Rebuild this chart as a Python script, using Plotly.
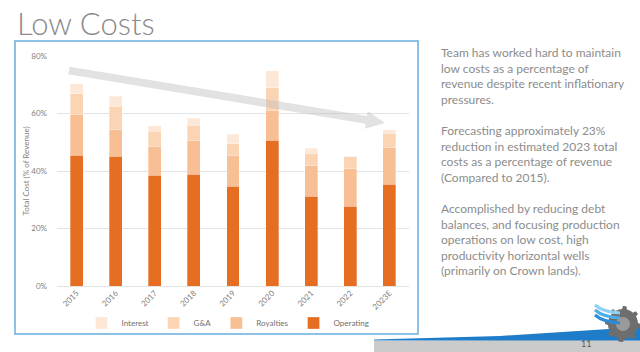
import numpy as np
import plotly.graph_objects as go

years = ["2015", "2016", "2017", "2018", "2019", "2020", "2021", "2022", "2023E"]
operating = [45.5, 45.1, 38.5, 38.9, 34.7, 50.7, 31.2, 27.7, 35.4]
royalties = [14.0, 9.3, 10.1, 11.8, 10.8, 10.2, 10.8, 13.1, 12.7]
g_and_a = [7.4, 8.2, 5.3, 5.2, 4.0, 8.0, 4.2, 4.1, 5.0]
interest = [3.5, 3.4, 1.8, 2.4, 3.2, 5.9, 1.8, 0.3, 1.2]
y_ticks = [0, 20, 40, 60, 80]
y_tick_text = ["0%", "20%", "40%", "60%", "80%"]

W, H = 640, 352
L, R, T, B = 57, 409, 56, 286  # plot area in pixels


def px(x):
    return (x - L) / (R - L)


def py(y):
    return (B - y) / (B - T)


fig = go.Figure()
series = [
    ("Operating", operating, "#E66E23"),
    ("Royalties", royalties, "#F9BF94"),
    ("G&A", g_and_a, "#FBD4B4"),
    ("Interest", interest, "#FDE8D8"),
]
for name, vals, col in series:
    fig.add_trace(go.Bar(
        x=years, y=vals, name=name,
        marker=dict(color=col, line=dict(color="rgba(255,255,255,0.6)", width=0.5)),
    ))

shapes = []
# chart frame
shapes.append(dict(type="rect", xref="paper", yref="paper",
                   x0=px(15), x1=px(418), y0=py(334), y1=py(41),
                   line=dict(color="#69ADDF", width=1.5), fillcolor="rgba(0,0,0,0)", layer="below"))

# big trend arrow (decoration)
tail = np.array([69.0, 70.5])
tip = np.array([385.0, 123.0])
d = tip - tail
length = np.hypot(*d)
u = d / length
n = np.array([-u[1], u[0]])
base = tip - u * 19
hw, hh = 3.9, 9.0
pts = [tail + n * hw, base + n * hw, base + n * hh, tip, base - n * hh, base - n * hw, tail - n * hw]
path = "M " + " L ".join(f"{px(p[0]):.5f},{py(p[1]):.5f}" for p in pts) + " Z"
shapes.append(dict(type="path", xref="paper", yref="paper", path=path,
                   fillcolor="rgba(190,190,190,0.45)", line=dict(width=0), layer="above"))

# bottom slide decoration
grey = [(374, 341), (640, 339), (640, 352), (374, 352)]
shapes.append(dict(type="path", xref="paper", yref="paper",
                   path="M " + " L ".join(f"{px(a):.5f},{py(b):.5f}" for a, b in grey) + " Z",
                   fillcolor="#CBCBCB", line=dict(width=0)))
blue = [(374, 339.5), (500, 336), (640, 327), (640, 340.5), (500, 340.5), (374, 340.5)]
shapes.append(dict(type="path", xref="paper", yref="paper",
                   path="M " + " L ".join(f"{px(a):.5f},{py(b):.5f}" for a, b in blue) + " Z",
                   fillcolor="#1E7CC8", line=dict(width=0)))

# logo gear
cx, cy = 623, 324
ang = np.linspace(0, 2 * np.pi, 97)[:-1]
rad = np.where((np.floor(ang / (2 * np.pi) * 24) % 3) == 0, 18.0, 15.0)
gear = [(cx + r * np.cos(a), cy + r * np.sin(a)) for a, r in zip(ang, rad)]
shapes.append(dict(type="path", xref="paper", yref="paper",
                   path="M " + " L ".join(f"{px(a):.5f},{py(b):.5f}" for a, b in gear) + " Z",
                   fillcolor="#6E6E6E", line=dict(width=0)))
shapes.append(dict(type="circle", xref="paper", yref="paper",
                   x0=px(cx - 7), x1=px(cx + 7), y0=py(cy + 7), y1=py(cy - 7),
                   fillcolor="#9A9A9A", line=dict(width=0)))
for k, c in enumerate(["#8FD0F5", "#4DAEE8", "#2A8CD6"]):
    o = k * 5
    shapes.append(dict(type="path", xref="paper", yref="paper",
                       path=f"M {px(595):.5f},{py(305 + o):.5f} Q {px(603):.5f},{py(312 + o):.5f} {px(620):.5f},{py(313 + o):.5f}",
                       line=dict(color=c, width=3)))

annotations = [
    dict(text="Low Costs", xref="paper", yref="paper", x=px(15), y=py(23),
         xanchor="left", yanchor="middle", showarrow=False,
         font=dict(family="Lato", size=31, color="#8A8A8A", weight=300)),
    dict(text=("Team has worked hard to maintain<br>low costs as a percentage of<br>"
               "revenue despite recent inflationary<br>pressures.<br><br>"
               "Forecasting approximately 23%<br>reduction in estimated 2023 total<br>"
               "costs as a percentage of revenue<br>(Compared to 2015).<br><br>"
               "Accomplished by reducing debt<br>balances, and focusing production<br>"
               "operations on low cost, high<br>productivity horizontal wells<br>"
               "(primarily on Crown lands)."),
         xref="paper", yref="paper", x=px(439), y=py(43), xanchor="left", yanchor="top",
         align="left", showarrow=False,
         font=dict(family="Lato", size=12, color="#8C8C8C")),
    dict(text="11", xref="paper", yref="paper", x=px(586), y=py(343),
         xanchor="center", yanchor="middle", showarrow=False,
         font=dict(family="Lato", size=9, color="#595959")),
]

fig.update_layout(
    width=W, height=H,
    margin=dict(l=L, r=W - R, t=T, b=H - B, pad=0),
    paper_bgcolor="white", plot_bgcolor="white",
    barmode="stack", bargap=0.67,
    font=dict(family="Lato", size=8, color="#7F7F7F"),
    showlegend=True,
    legend=dict(orientation="h", traceorder="reversed", x=px(228), xanchor="center",
                y=py(323), yanchor="middle", font=dict(size=8, color="#6F6F6F"),
                itemwidth=30, bgcolor="rgba(0,0,0,0)"),
    xaxis=dict(type="category", tickangle=-45, showgrid=False, showline=False,
               ticks="", tickfont=dict(size=8, color="#7F7F7F"), fixedrange=True),
    yaxis=dict(range=[0, 80], tickvals=y_ticks, ticktext=y_tick_text,
               showgrid=True, gridcolor="#E3E3E3", gridwidth=1, zeroline=True,
               zerolinecolor="#E3E3E3", zerolinewidth=1, ticks="",
               ticklabelstandoff=9, tickfont=dict(size=8, color="#7F7F7F"),
               title=dict(text="Total Cost (% of Revenue)", font=dict(size=8, color="#7F7F7F"),
                          standoff=0)),
    shapes=shapes,
    annotations=annotations,
)

fig.write_html("out.html")
